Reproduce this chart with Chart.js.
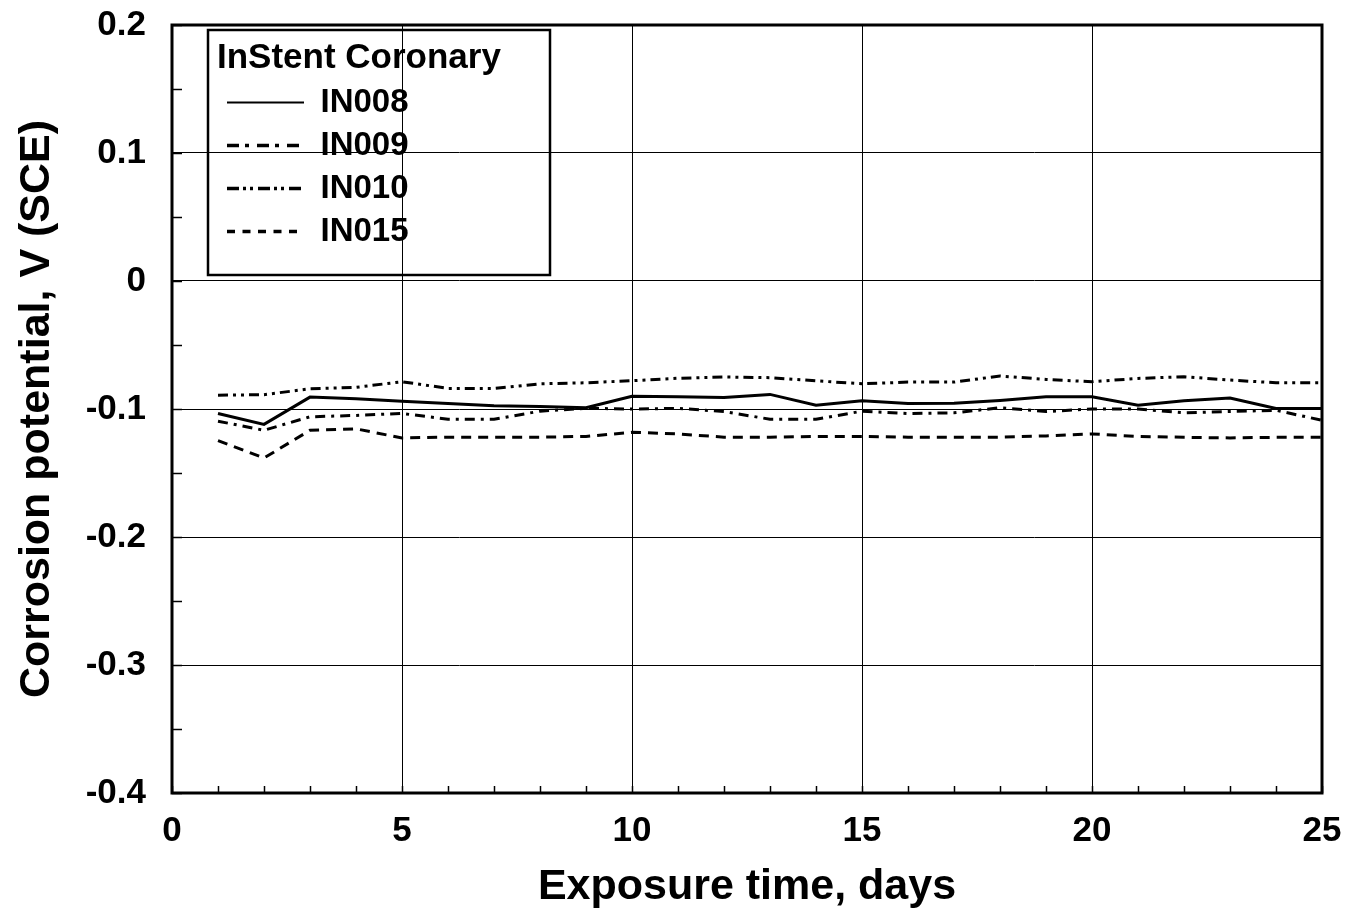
<!DOCTYPE html>
<html>
<head>
<meta charset="utf-8">
<script src="https://cdn.jsdelivr.net/npm/chart.js@4"></script>
<style>
  html, body { margin: 0; padding: 0; background: #fff; }
  #wrap { width: 1349px; height: 920px; }
</style>
</head>
<body>
<div id="wrap"><canvas id="myChart" width="1349" height="920"></canvas></div>
<script>
// exposure time, days
const days = [1, 2, 3, 4, 5, 6, 7, 8, 9, 10, 11, 12, 13, 14, 15, 16, 17, 18, 19, 20, 21, 22, 23, 24, 25];

// corrosion potential, V (SCE)
const in008 = [-0.1035, -0.112, -0.0907, -0.092, -0.094, -0.0957, -0.0975, -0.098, -0.099, -0.090, -0.0905, -0.091, -0.0886,
  -0.097, -0.0936, -0.0957, -0.0955, -0.0933, -0.0905, -0.0905, -0.097, -0.0936, -0.0915, -0.0996, -0.0996];
const in009 = [-0.1095, -0.1166, -0.1061, -0.105, -0.1035, -0.108, -0.108, -0.1017, -0.0995, -0.100, -0.0995, -0.102, -0.108,
  -0.108, -0.1017, -0.1035, -0.103, -0.099, -0.102, -0.100, -0.100, -0.103, -0.102, -0.101, -0.1088];
const in010 = [-0.0892, -0.0888, -0.0842, -0.0831, -0.0787, -0.0839, -0.084, -0.0803, -0.0795, -0.0779, -0.076, -0.075, -0.0755,
  -0.078, -0.0803, -0.079, -0.079, -0.0742, -0.0769, -0.0787, -0.0761, -0.0748, -0.0774, -0.0795, -0.0795];
const in015 = [-0.1247, -0.1383, -0.1166, -0.1155, -0.1226, -0.122, -0.122, -0.122, -0.1214, -0.1182, -0.1195, -0.122, -0.122,
  -0.1214, -0.1214, -0.122, -0.1221, -0.122, -0.121, -0.1195, -0.1214, -0.1221, -0.1226, -0.1221, -0.122];

const seriesNames = ["IN008", "IN009", "IN010", "IN015"];
const legendTitle = "InStent Coronary";
const xTitle = "Exposure time, days";
const yTitle = "Corrosion potential, V (SCE)";

const FONT = "'Liberation Sans', Arial, Helvetica, sans-serif";

function toPoints(vals) {
  return vals.map((v, i) => ({ x: days[i], y: v }));
}

const dashes = [[], [10, 6, 3, 6], [10, 5, 3, 5, 3, 5], [10, 7]];
const legendDashes = [[], [12, 6, 4, 8], [12, 4, 3, 4, 3, 5], [8, 7.5]];
const legendWidths = [2, 3.5, 3.5, 3.5];

function noPad(s) {
  s.paddingLeft = 0;
  s.paddingRight = 0;
  s.paddingTop = 0;
  s.paddingBottom = 0;
}

// legend placement, inward minor ticks, frame, legend box
const framePlugin = {
  id: "framePlugin",
  afterLayout(chart) {
    const lg = chart.legend;
    lg.left = 217;
    lg.top = 30;
    lg.width = 330;
    lg.height = 245;
    lg.right = lg.left + lg.width;
    lg.bottom = lg.top + lg.height;
  },
  afterDraw(chart) {
    const ctx = chart.ctx;
    const a = chart.chartArea;
    const xs = chart.scales.x;
    const ys = chart.scales.y;
    ctx.save();
    ctx.strokeStyle = "#000";
    ctx.lineWidth = 1.5;
    xs.ticks.forEach(t => {
      const px = Math.round(xs.getPixelForValue(t.value)) + 0.5;
      ctx.beginPath();
      ctx.moveTo(px, a.bottom);
      ctx.lineTo(px, a.bottom - 7);
      ctx.stroke();
    });
    ys.ticks.forEach(t => {
      const py = Math.round(ys.getPixelForValue(t.value)) + 0.5;
      ctx.beginPath();
      ctx.moveTo(a.left, py);
      ctx.lineTo(a.left + 10, py);
      ctx.stroke();
    });
    ctx.lineWidth = 3;
    ctx.strokeRect(a.left, a.top, a.right - a.left, a.bottom - a.top);
    // legend frame
    ctx.lineWidth = 2.5;
    ctx.strokeRect(a.left + 36, a.top + 5, 342, 245);
    ctx.restore();
  }
};

const ctx = document.getElementById("myChart");

new Chart(ctx, {
  type: "line",
  data: {
    datasets: [in008, in009, in010, in015].map((vals, i) => ({
      label: seriesNames[i],
      data: toPoints(vals),
      borderColor: "#000",
      backgroundColor: "#000",
      borderWidth: 3,
      borderDash: dashes[i],
      pointRadius: 0,
      tension: 0,
      fill: false
    }))
  },
  options: {
    responsive: false,
    animation: false,
    layout: { padding: { left: 0, right: 27, top: 25, bottom: 0 } },
    scales: {
      x: {
        type: "linear",
        min: 0,
        max: 25,
        afterFit: (s) => { s.height = 127; noPad(s); },
        ticks: {
          stepSize: 1,
          autoSkip: false,
          maxRotation: 0,
          padding: 17,
          color: "#000",
          font: { family: FONT, size: 35, weight: "bold" },
          callback: (v) => (v % 5 === 0 ? String(v) : "")
        },
        grid: {
          drawTicks: false,
          lineWidth: 1,
          color: (c) => (c.tick && c.tick.value % 5 === 0 ? "#000" : "rgba(0,0,0,0)")
        },
        border: { display: false },
        title: {
          display: true,
          text: xTitle,
          color: "#000",
          font: { family: FONT, size: 43, weight: "bold" },
          padding: { top: 0, bottom: 7 }
        }
      },
      y: {
        min: -0.4,
        max: 0.2,
        afterFit: (s) => { s.width = 172; noPad(s); },
        ticks: {
          stepSize: 0.05,
          autoSkip: false,
          padding: 26,
          color: "#000",
          font: { family: FONT, size: 35, weight: "bold" },
          callback: (v) => {
            const r = Math.round(v * 100);
            return r % 10 === 0 ? String(r / 100) : "";
          }
        },
        grid: {
          drawTicks: false,
          lineWidth: 1,
          color: (c) => (c.tick && Math.round(c.tick.value * 100) % 10 === 0 ? "#000" : "rgba(0,0,0,0)")
        },
        border: { display: false },
        title: {
          display: true,
          text: yTitle,
          color: "#000",
          font: { family: FONT, size: 43, weight: "bold" },
          padding: { top: 11, bottom: 0 }
        }
      }
    },
    plugins: {
      tooltip: { enabled: false },
      legend: {
        position: "chartArea",
        align: "start",
        title: {
          display: true,
          position: "start",
          text: legendTitle,
          color: "#000",
          font: { family: FONT, size: 35, weight: "bold", lineHeight: 1 },
          padding: { top: 11, bottom: 0 }
        },
        labels: {
          usePointStyle: true,
          pointStyle: "line",
          pointStyleWidth: 77,
          padding: 10,
          color: "#000",
          font: { family: FONT, size: 33, weight: "bold" },
          generateLabels: (chart) => chart.data.datasets.map((ds, i) => ({
            text: ds.label,
            datasetIndex: i,
            fillStyle: "#000",
            strokeStyle: "#000",
            lineWidth: legendWidths[i],
            lineDash: legendDashes[i],
            pointStyle: "line",
            hidden: false
          }))
        }
      }
    }
  },
  plugins: [framePlugin]
});
</script>
</body>
</html>
